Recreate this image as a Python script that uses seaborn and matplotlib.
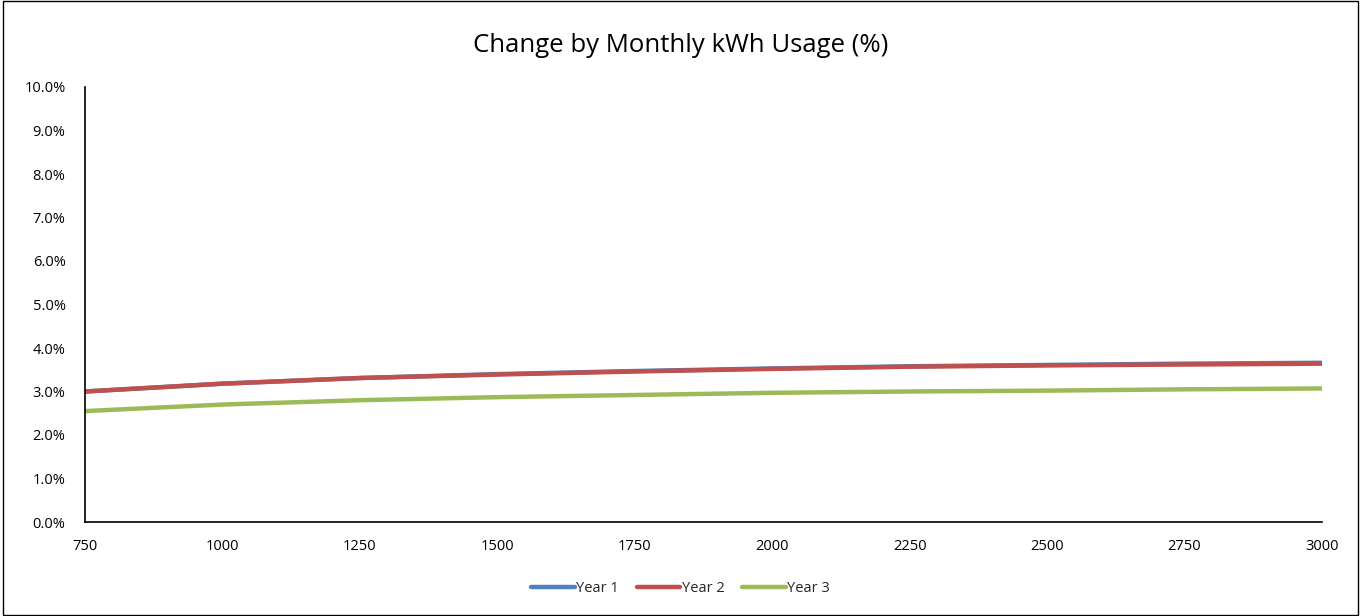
import numpy as np
import pandas as pd
import matplotlib
matplotlib.use("Agg")
import matplotlib.pyplot as plt
import seaborn as sns
from matplotlib.ticker import PercentFormatter

# monthly kWh usage levels
usage = [750, 1000, 1250, 1500, 1750, 2000, 2250, 2500, 2750, 3000]

# change (%) per year
year1 = [3.00, 3.18, 3.31, 3.40, 3.47, 3.53, 3.58, 3.61, 3.64, 3.66]
year2 = [3.00, 3.18, 3.31, 3.39, 3.46, 3.52, 3.57, 3.60, 3.62, 3.64]
year3 = [2.55, 2.70, 2.80, 2.87, 2.92, 2.97, 3.00, 3.02, 3.05, 3.07]

series = ["Year 1", "Year 2", "Year 3"]
colors = ["#4F81BD", "#C0504D", "#9BBB59"]

df = pd.DataFrame({"usage": usage, "Year 1": year1, "Year 2": year2, "Year 3": year3})
long = df.melt(id_vars="usage", var_name="series", value_name="change")

sns.set_style("white")
plt.rcParams['font.family'] = ['Open Sans', 'DejaVu Sans']

fig = plt.figure(figsize=(13.61, 6.16), dpi=100)
ax = fig.add_axes([85 / 1361, 1 - 522 / 616, (1322 - 85) / 1361, (522 - 87) / 616])

sns.lineplot(data=long, x="usage", y="change", hue="series", hue_order=series,
             palette=colors, linewidth=3.2, ax=ax, legend=False)

ax.set_xlim(750, 3000)
ax.set_ylim(0, 10)
ax.set_xticks(usage)
ax.set_yticks(np.arange(0, 10.5, 1))
ax.yaxis.set_major_formatter(PercentFormatter(decimals=1))
ax.tick_params(axis="both", labelsize=10.5, length=0, colors="black")
ax.tick_params(axis="x", pad=12)
ax.tick_params(axis="y", pad=14)
ax.set_xlabel("")
ax.set_ylabel("")
for s in ["top", "right"]:
    ax.spines[s].set_visible(False)
for s in ["left", "bottom"]:
    ax.spines[s].set_color("black")
    ax.spines[s].set_linewidth(1.2)

fig.text(0.5, 1 - 45 / 616, "Change by Monthly kWh Usage (%)", ha="center", va="center",
         fontsize=18.5, color="black")

handles = [plt.Line2D([0], [0], color=c, linewidth=3.2) for c in colors]
fig.legend(handles, series, loc="center", bbox_to_anchor=(0.5, 1 - 589 / 616), ncol=3,
           frameon=False, fontsize=10.5, handlelength=3, handletextpad=0.1, columnspacing=1.2)

# chart border
fig.patches.append(plt.Rectangle((0.002, 0.002), 0.996, 0.996, transform=fig.transFigure,
                                 fill=False, edgecolor="black", linewidth=1))

fig.savefig("out.png", dpi=100)
